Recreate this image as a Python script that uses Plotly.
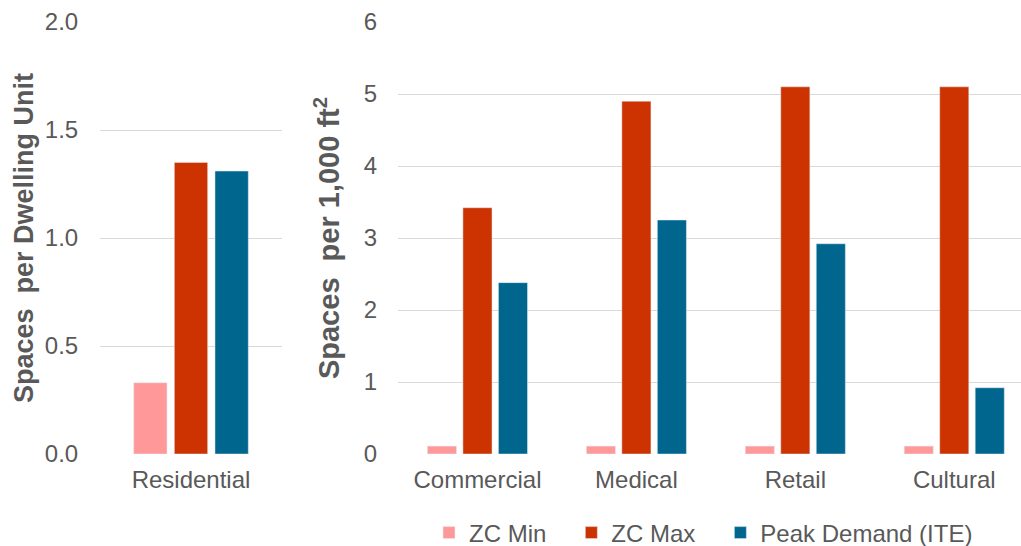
import plotly.graph_objects as go

# Data
res_categories = ["Residential"]
res_zc_min = [0.33]
res_zc_max = [1.35]
res_peak = [1.31]

nonres_categories = ["Commercial", "Medical", "Retail", "Cultural"]
nonres_zc_min = [0.11, 0.11, 0.11, 0.11]
nonres_zc_max = [3.42, 4.90, 5.10, 5.10]
nonres_peak = [2.38, 3.25, 2.92, 0.92]

series_names = ["ZC Min", "ZC Max", "Peak Demand (ITE)"]
colors = ["#FF9999", "#CC3300", "#00668E"]

left_ticks = [0.0, 0.5, 1.0, 1.5, 2.0]
right_ticks = [0, 1, 2, 3, 4, 5, 6]

FONT = "Liberation Sans, Arial, sans-serif"
GRAY = "#595959"
PAD = "\u00a0\u00a0\u00a0"  # legend spacing

fig = go.Figure()
res_vals = [res_zc_min, res_zc_max, res_peak]
nonres_vals = [nonres_zc_min, nonres_zc_max, nonres_peak]
for i, (name, color, rv, nv) in enumerate(zip(series_names, colors, res_vals, nonres_vals)):
    label = name + (PAD if i < len(series_names) - 1 else "")
    fig.add_trace(go.Bar(x=res_categories, y=rv, name=label, marker_color=color,
                         xaxis="x", yaxis="y", showlegend=False, legendgroup=name))
    fig.add_trace(go.Bar(x=nonres_categories, y=nv, name=label, marker_color=color,
                         xaxis="x2", yaxis="y2", showlegend=True, legendgroup=name))

W, H = 1021, 546
ydom = [(H - 454) / H, (H - 22) / H]

xcommon = dict(showgrid=False, showline=False, ticks="outside", ticklen=4,
               tickcolor="rgba(0,0,0,0)", tickfont=dict(size=24, color=GRAY),
               automargin=False)
ycommon = dict(showgrid=True, gridcolor="#D9D9D9", gridwidth=1, zeroline=False,
               showline=False, ticks="outside",
               tickcolor="rgba(0,0,0,0)", tickfont=dict(size=24, color=GRAY),
               automargin=False)

fig.update_layout(
    width=W, height=H,
    margin=dict(l=0, r=0, t=0, b=0, autoexpand=False),
    paper_bgcolor="white", plot_bgcolor="white",
    font=dict(family=FONT, size=24, color=GRAY),
    barmode="group", bargap=0.33, bargroupgap=0.18,
    xaxis=dict(domain=[100 / W, 282 / W], anchor="y", range=[-0.5, 0.5], **xcommon),
    yaxis=dict(domain=ydom, anchor="x", range=[0, 2.0], tickvals=left_ticks,
               tickformat=".1f", ticklen=16,
               title=dict(text="<b>Spaces  per Dwelling Unit</b>",
                          font=dict(size=27, color=GRAY), standoff=3),
               **ycommon),
    xaxis2=dict(domain=[398 / W, 1.0], anchor="y2", range=[-0.5, 3.42], **xcommon),
    yaxis2=dict(domain=ydom, anchor="x2", range=[0, 6], tickvals=right_ticks,
                ticklen=15,
                title=dict(text="<b>Spaces  per 1,000 ft<sup>2</sup></b>",
                           font=dict(size=29, color=GRAY), standoff=15),
                **ycommon),
    legend=dict(orientation="h", x=429 / W, xanchor="left", y=(H - 533) / H,
                yanchor="middle", font=dict(size=24, color=GRAY),
                bgcolor="rgba(0,0,0,0)"),
)

fig.write_html("out.html", config={"displayModeBar": False},
               post_script="document.body.style.margin='0';")
